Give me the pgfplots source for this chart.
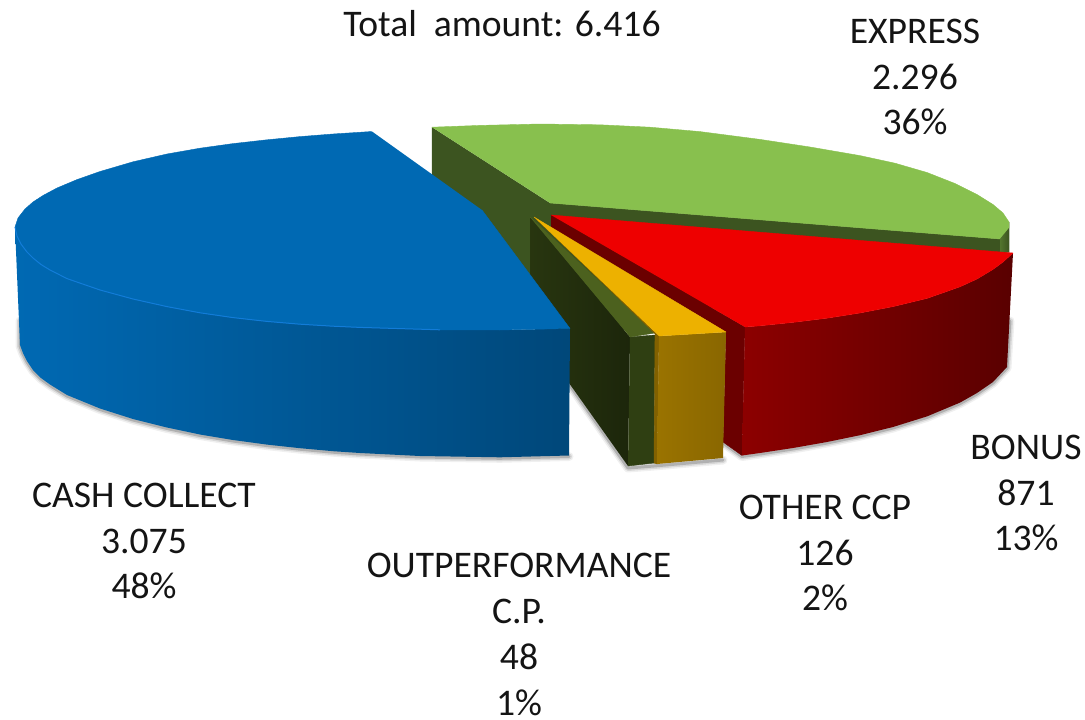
\documentclass[border=0pt]{standalone}
\usepackage{fontspec}
\setmainfont{Carlito}
\usepackage{pgfplots}
\usepackage{pgfplotstable}
\pgfplotsset{compat=1.18}

\definecolor{bluetop}{HTML}{0069B3}
\definecolor{blueedge}{HTML}{127CD8}
\definecolor{greentop}{HTML}{88C04E}
\definecolor{greenwall}{HTML}{3C5420}
\definecolor{redtop}{HTML}{EE0000}
\definecolor{redcut}{HTML}{6B0000}
\definecolor{yellowtop}{HTML}{EDB100}
\definecolor{olivetop}{HTML}{4C611E}
\definecolor{olivefront}{HTML}{2F3F12}
\definecolor{labeltext}{HTML}{141414}

\tikzset{lbl/.style={font=\fontsize{37.6}{45.5}\selectfont, text=labeltext, align=center, inner sep=0pt}}

% outlines in image pixels, y downwards
\pgfplotstableread{
x y
372 131.5
333 134
300 136.6
267 139.8
233 143.6
200 148.2
167 154
133 161.8
100 171.5
77 179.6
57 188
43 195.5
33 202
25 209
18 218
15 227
17 236
21 244
27 252
33 258
41 264.5
50 270
67 278.6
100 290
133 299
167 306.6
200 312.8
233 317.6
267 321.4
300 324.2
333 326.2
360 327.4
440 329.8
500 330
570 328.5
482 210
}\bluetoptab
\pgfplotstableread{
x y
15 227
17 236
21 244
27 252
33 258
41 264.5
50 270
67 278.6
100 290
133 299
167 306.6
200 312.8
233 317.6
267 321.4
300 324.2
333 326.2
360 327.4
440 329.8
500 330
570 328.5
569 455.5
500 457.3
420 456
360 453
333 451.2
300 448.2
267 444.6
233 440
200 434.5
167 427.5
133 419
100 408.5
67 395
50 384.5
41 378
33 370
27 361
23 353
20 345
}\bluesidetab
\pgfplotstableread{
x y
15 227
17 236
21 244
27 252
33 258
41 264.5
50 270
67 278.6
100 290
133 299
167 306.6
200 312.8
233 317.6
267 321.4
300 324.2
333 326.2
360 327.4
440 329.8
}\blueedgetab
\pgfplotstableread{
x y
20 320
20 345
23 353
27 361
33 370
41 378
50 384.5
67 395
100 408.5
133 419
167 427.5
200 434.5
233 440
267 444.6
300 448.2
333 451.2
360 453
420 456
500 457.3
569 455.5
}\blueshadow
\pgfplotstableread{
x y
432 127.2
432 210
560 340
620 330
700 310
1009 252
1009 222
1000 239
550 203
}\greenwalltab
\pgfplotstableread{
x y
432 127.2
480 125.4
540 124
600 124.8
650 127.2
700 131.6
760 139.4
810 147
860 155.6
895 163.2
927 172.5
955 183.5
977 194.5
993 204.5
1003 213
1009 222
1009 228
1000 239
550 203
}\greentoptab
\pgfplotstableread{
x y
1000 239
1009 228
1009 222
1009 252
1000 252
}\greentiptab
\pgfplotstableread{
x y
551 215
745 327
742 455.5
723 442
726 332
551 227
}\redcuttab
\pgfplotstableread{
x y
745 327
760 325.8
793 322.4
827 318.2
860 313
893 306.6
927 298.4
960 286.8
977 279
993 269.4
1003 262
1013 253
1007 367
993 382
977 393
960 402.6
927 416.4
893 427
860 435.2
827 442
793 448
760 453
742 455.5
}\redsidetab
\pgfplotstableread{
x y
551 215
1013 253
1003 262
993 269.4
977 279
960 286.8
927 298.4
893 306.6
860 313
827 318.2
793 322.4
760 325.8
745 327
}\redtoptab
\pgfplotstableread{
x y
1010 320
1007 367
993 382
977 393
960 402.6
927 416.4
893 427
860 435.2
827 442
793 448
760 453
742 455.5
723 442
}\redshadow
\pgfplotstableread{
x y
530 217
630 337
628 466
569 383
530 320
}\olivecuttab
\pgfplotstableread{
x y
630 337
655 335
654 463
628 466
}\olivefronttab
\pgfplotstableread{
x y
530 217
655 333
630 337
}\olivetoptab
\pgfplotstableread{
x y
569 383
628 467
654 465
723 459
}\middleshadow
\pgfplotstableread{
x y
534 217
659 336
657 464
654 463
655 334
}\yellowcuttab
\pgfplotstableread{
x y
659 336
726 332
723 458
657 464
}\yellowfronttab
\pgfplotstableread{
x y
534 217
726 332
659 336
}\yellowtoptab

\begin{document}
\begin{tikzpicture}
\begin{axis}[
    scale only axis,
    width=1085pt,
    height=720pt,
    xmin=0, xmax=1085,
    ymin=0, ymax=720,
    y dir=reverse,
    hide axis,
    clip=false,
    flat/.style={fill=#1, draw=#1, line width=0.4pt, line join=round},
    soft/.style={draw=black, opacity=#1, fill=none, line cap=round, line join=round, yshift=-1pt},
]
% keeps the page at the full image size
\addplot[draw=none] coordinates {(0,0) (1085,720)};

% soft shadows under the slices
\addplot[soft=0.06, line width=9pt] table {\blueshadow};
\addplot[soft=0.10, line width=6pt] table {\blueshadow};
\addplot[soft=0.18, line width=3pt] table {\blueshadow};
\addplot[soft=0.06, line width=9pt] table {\redshadow};
\addplot[soft=0.10, line width=6pt] table {\redshadow};
\addplot[soft=0.18, line width=3pt] table {\redshadow};
\addplot[soft=0.06, line width=9pt] table {\middleshadow};
\addplot[soft=0.10, line width=6pt] table {\middleshadow};
\addplot[soft=0.18, line width=3pt] table {\middleshadow};

% express
\addplot[flat=greenwall] table {\greenwalltab};
\addplot[flat=greentop] table {\greentoptab};
\addplot[draw=none, left color=greenwall!70!greentop, right color=greenwall] table {\greentiptab};

% bonus
\addplot[flat=redcut] table {\redcuttab};
\addplot[draw=none, left color=red!55!black, middle color=red!39!black, right color=red!35!black] table {\redsidetab};
\addplot[flat=redtop] table {\redtoptab};

% outperformance
\addplot[draw=none, left color=olivefront!85!black, right color=olivefront!60!black] table {\olivecuttab};
\addplot[flat=olivefront] table {\olivefronttab};
\addplot[flat=olivetop] table {\olivetoptab};

% other ccp
\addplot[flat=yellowtop!55!black] table {\yellowcuttab};
\addplot[draw=none, left color=yellowtop!65!black, right color=yellowtop!58!black] table {\yellowfronttab};
\addplot[flat=yellowtop] table {\yellowtoptab};

% cash collect
\addplot[draw=none, left color=bluetop, middle color=bluetop!92!black, right color=bluetop!68!black] table {\bluesidetab};
\addplot[flat=bluetop] table {\bluetoptab};
\addplot[draw=blueedge, line width=1pt, fill=none] table {\blueedgetab};

\node[lbl] at (axis cs:502,24) {Total\ \ amount: 6.416};
\node[lbl] at (axis cs:915,77) {EXPRESS\\2.296\\36\%};
\node[lbl] at (axis cs:1026,493) {BONUS\\871\\13\%};
\node[lbl] at (axis cs:825,553) {OTHER CCP\\126\\2\%};
\node[lbl] at (axis cs:519,565) {OUTPERFORMANCE};
\node[lbl] at (axis cs:519,611) {C.P.};
\node[lbl] at (axis cs:519,657) {48};
\node[lbl] at (axis cs:519,703) {1\%};
\node[lbl] at (axis cs:144,541) {CASH COLLECT\\3.075\\48\%};
\end{axis}
\end{tikzpicture}
\end{document}
